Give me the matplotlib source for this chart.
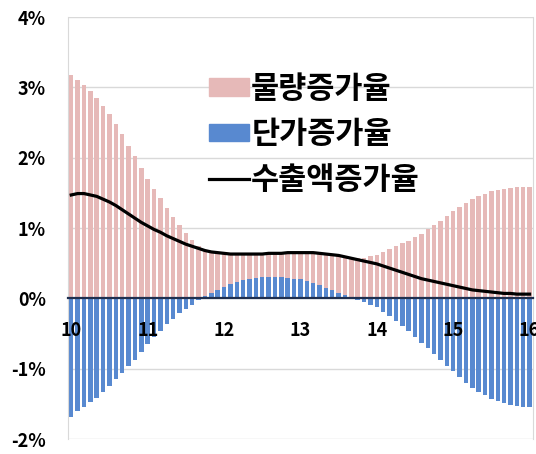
import matplotlib
matplotlib.use("Agg")
import matplotlib.pyplot as plt
from matplotlib.patches import Patch
from matplotlib.lines import Line2D

plt.rcParams['font.family'] = ['Noto Sans CJK KR', 'DejaVu Sans']

# 월별 (10년 1월 ~ 16년 1월), 단위 %
volume = [3.17, 3.10, 3.03, 2.95, 2.85, 2.74, 2.62, 2.48, 2.33, 2.17,
          2.02, 1.86, 1.70, 1.55, 1.42, 1.28, 1.16, 1.04, 0.93, 0.83,
          0.74, 0.65, 0.58, 0.53, 0.48, 0.43, 0.40, 0.37, 0.35, 0.34,
          0.33, 0.34, 0.34, 0.34, 0.36, 0.37, 0.38, 0.40, 0.43, 0.45,
          0.48, 0.50, 0.53, 0.54, 0.55, 0.57, 0.58, 0.60, 0.62, 0.66,
          0.70, 0.74, 0.78, 0.82, 0.87, 0.92, 0.98, 1.04, 1.10, 1.17,
          1.24, 1.30, 1.36, 1.41, 1.45, 1.49, 1.52, 1.54, 1.56, 1.57,
          1.58, 1.58, 1.58]
price = [-1.68, -1.60, -1.54, -1.47, -1.41, -1.33, -1.25, -1.15, -1.06, -0.96,
         -0.87, -0.76, -0.65, -0.55, -0.46, -0.37, -0.29, -0.21, -0.15, -0.09,
         -0.03, 0.03, 0.08, 0.12, 0.16, 0.20, 0.23, 0.26, 0.28, 0.29,
         0.30, 0.30, 0.30, 0.30, 0.29, 0.28, 0.27, 0.25, 0.22, 0.19,
         0.15, 0.12, 0.08, 0.05, 0.02, -0.02, -0.05, -0.09, -0.13, -0.19,
         -0.25, -0.32, -0.40, -0.47, -0.55, -0.63, -0.71, -0.79, -0.87, -0.96,
         -1.04, -1.12, -1.20, -1.27, -1.33, -1.38, -1.43, -1.46, -1.49, -1.51,
         -1.53, -1.54, -1.55]
export = [1.47, 1.49, 1.49, 1.47, 1.45, 1.41, 1.37, 1.32, 1.26, 1.20,
          1.14, 1.08, 1.03, 0.98, 0.94, 0.89, 0.85, 0.81, 0.77, 0.74,
          0.71, 0.68, 0.66, 0.65, 0.64, 0.63, 0.63, 0.63, 0.63, 0.63,
          0.63, 0.64, 0.64, 0.64, 0.65, 0.65, 0.65, 0.65, 0.65, 0.64,
          0.63, 0.62, 0.61, 0.59, 0.57, 0.55, 0.53, 0.51, 0.49, 0.46,
          0.43, 0.40, 0.37, 0.34, 0.31, 0.28, 0.26, 0.24, 0.22, 0.20,
          0.18, 0.16, 0.14, 0.12, 0.11, 0.10, 0.09, 0.08, 0.07, 0.07,
          0.06, 0.06, 0.06]
year_labels = ["10", "11", "12", "13", "14", "15", "16"]
names = ["물량증가율", "단가증가율", "수출액증가율"]

pink = "#e6b9b8"
blue = "#5889d0"

fig = plt.figure(figsize=(5.36, 4.54), dpi=100)
ax = fig.add_axes([0.127, 0.033, 0.867, 0.9295])

x = list(range(len(volume)))
pink_bottom = [p if p > 0 else 0 for p in price]
ax.bar(x, price, width=0.7, color=blue, zorder=2)
ax.bar(x, volume, bottom=pink_bottom, width=0.7, color=pink, zorder=2)
ax.plot(x, export, color="black", lw=2.3, zorder=4)

ax.set_xlim(-0.5, len(volume) - 0.5)
ax.set_ylim(-2, 4)
ax.set_yticks([-2, -1, 0, 1, 2, 3, 4])
ax.set_yticklabels([f"{v}%" for v in range(-2, 5)])
ax.set_xticks(range(0, len(volume), 12))
ax.set_xticklabels(year_labels)
ax.grid(axis="y", color="#d9d9d9", lw=1, zorder=0)
ax.xaxis.set_zorder(5)

ax.spines["top"].set_visible(False)
ax.spines["left"].set_color("#d9d9d9")
ax.spines["right"].set_color("#d9d9d9")
ax.spines["bottom"].set_position(("data", 0))
ax.spines["bottom"].set_color("#1f2f4f")
ax.spines["bottom"].set_linewidth(1.6)
ax.spines["bottom"].set_zorder(3)
ax.tick_params(axis="y", length=0, pad=16, labelsize=13)
ax.tick_params(axis="x", length=0, pad=16, labelsize=13)
for lab in ax.get_xticklabels() + ax.get_yticklabels():
    lab.set_fontweight("bold")

handles = [Patch(color=pink), Patch(color=blue),
           Line2D([], [], color="black", lw=2.3)]
leg = ax.legend(handles, names, loc="upper left", bbox_to_anchor=(0.39, 0.84),
                bbox_transform=fig.transFigure, frameon=False,
                prop={"weight": "bold", "size": 22}, handlelength=1.3,
                handleheight=0.5, handletextpad=0.08, labelspacing=0.45,
                borderpad=0, borderaxespad=0)

fig.savefig("out.png", dpi=100)
